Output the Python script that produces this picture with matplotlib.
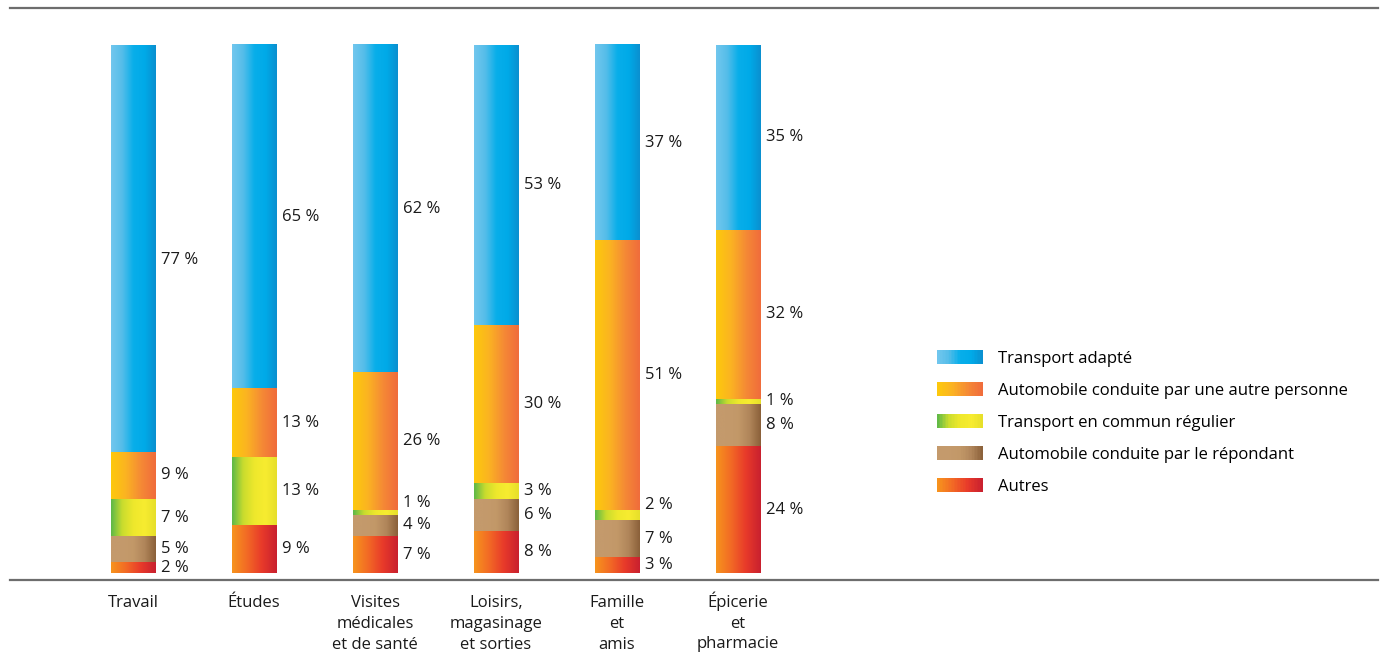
import numpy as np
import matplotlib
matplotlib.use("Agg")
import matplotlib.pyplot as plt
import matplotlib.transforms as mtransforms
from matplotlib.colors import LinearSegmentedColormap
from matplotlib.legend_handler import HandlerBase
from matplotlib.patches import Rectangle

categories = ["Travail", "Études", "Visites\nmédicales\net de santé",
              "Loisirs,\nmagasinage\net sorties", "Famille\net\namis",
              "Épicerie\net\npharmacie"]
series_names = ["Autres", "Automobile conduite par le répondant",
                "Transport en commun régulier",
                "Automobile conduite par une autre personne",
                "Transport adapté"]
autres = [2, 9, 7, 8, 3, 24]
auto_repondant = [5, 0, 4, 6, 7, 8]
transport_commun = [7, 13, 1, 3, 2, 1]
auto_autre = [9, 13, 26, 30, 51, 32]
transport_adapte = [77, 65, 62, 53, 37, 35]
series_values = [autres, auto_repondant, transport_commun, auto_autre, transport_adapte]

gradients = [
    ["#f7941d", "#f26a25", "#e83a2a", "#c8202f"],
    ["#c49a6c", "#c49a6c", "#c29868", "#b0855a", "#8a6039"],
    ["#5cb848", "#c9dc2e", "#eee82c", "#f7ec30", "#e6df2a"],
    ["#fdc90c", "#fbb322", "#f58a35", "#f06c3c"],
    ["#72c7ee", "#55bde9", "#08aeea", "#00aae8", "#0b8fcf"],
]
cmaps = [LinearSegmentedColormap.from_list(f"g{i}", c) for i, c in enumerate(gradients)]

plt.rcParams['font.family'] = ['Open Sans', 'DejaVu Sans']
FS = 12

fig = plt.figure(figsize=(13.81, 6.62), dpi=100)
W, H = 1381, 662
ax = fig.add_axes([10 / W, (662 - 580) / H, (1378 - 10) / W, (580 - 8) / H])
x = np.arange(len(categories))
width = 0.364
grad = np.linspace(0, 1, 256).reshape(1, -1)

bottom = np.zeros(len(categories))
for si, vals in enumerate(series_values):
    vals = np.array(vals, dtype=float)
    for i in range(len(categories)):
        if vals[i] <= 0:
            continue
        y0, y1 = bottom[i], bottom[i] + vals[i]
        ax.imshow(grad, cmap=cmaps[si], extent=(x[i] - width / 2, x[i] + width / 2, y0, y1),
                  aspect='auto', interpolation='bicubic', zorder=2)
        ymid = (y0 + y1) / 2
        if si == 2 and vals[i] <= 2 and y0 < 20:
            ymid += 1.8
        if si == 4 and y0 < 30:
            ymid -= 2.3
        ax.text(x[i] + width / 2 + 0.045, ymid, f"{int(vals[i])} %", ha='left', va='center',
                fontsize=FS, color='#1a1a1a')
    bottom += vals

ax.set_xlim(-1.017, 10.289)
ax.set_ylim(-1.326, 107.0)
ax.set_xticks(x)
ax.set_xticklabels(categories, fontsize=FS, linespacing=1.4, color='#1a1a1a')
ax.tick_params(axis='x', length=0, pad=11)
ax.set_yticks([])
for s in ['left', 'right']:
    ax.spines[s].set_visible(False)
for s in ['top', 'bottom']:
    ax.spines[s].set_color('#6d6d6d')
    ax.spines[s].set_linewidth(1.6)

# align multi-line labels starting with an accented capital with the others
for lbl in ax.get_xticklabels():
    t = lbl.get_text()
    if "\n" in t and t[0] in "ÉÈÊ":
        lbl.set_transform(lbl.get_transform() +
                          mtransforms.ScaledTranslation(0, 4 / 100, fig.dpi_scale_trans))


class GradHandler(HandlerBase):
    def __init__(self, cmap):
        super().__init__()
        self.cmap = cmap

    def create_artists(self, legend, orig_handle, xdescent, ydescent, width, height, fontsize, trans):
        n = 30
        arts = []
        for k in range(n):
            r = Rectangle((-xdescent + width * k / n, -ydescent), width / n * 1.05, height,
                          facecolor=self.cmap((k + 0.5) / n), edgecolor='none', transform=trans)
            arts.append(r)
        return arts


order = [4, 3, 2, 1, 0]
handles = [Rectangle((0, 0), 1, 1) for _ in order]
labels = [series_names[i] for i in order]
hmap = {h: GradHandler(cmaps[i]) for h, i in zip(handles, order)}
ax.legend(handles, labels, handler_map=hmap, loc='upper left',
          bbox_to_anchor=((937 - 10) / 1368, (580 - 350) / 572), frameon=False,
          fontsize=FS, handlelength=2.75, handleheight=0.9, handletextpad=0.9,
          labelspacing=0.92, borderaxespad=0, borderpad=0)

fig.savefig("out.png", dpi=100)
